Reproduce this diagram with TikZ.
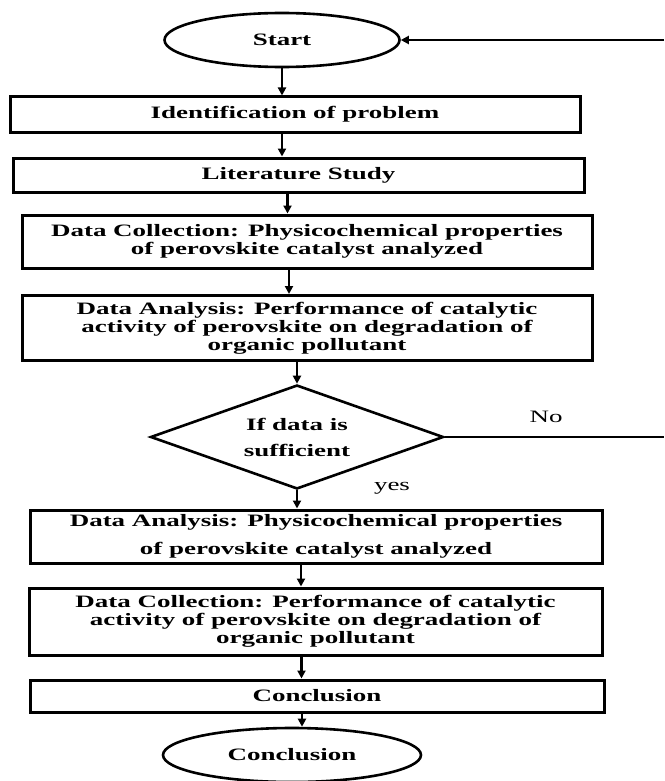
\documentclass[tikz,border=0pt]{standalone}
\usepackage{fontspec}
\setmainfont{Liberation Serif}[FakeStretch=1.55]
\usetikzlibrary{shapes.geometric,arrows.meta}

\tikzset{
  stepbox/.style={draw,line width=3pt,rectangle,inner sep=0pt,align=center,
    font=\bfseries\fontsize{17.4}{18}\selectfont},
  term/.style={draw,line width=2.6pt,ellipse,inner sep=0pt,
    font=\bfseries\fontsize{17.4}{18}\selectfont},
  decide/.style={draw,line width=2.6pt,diamond,aspect=2.8,inner sep=0pt,align=center,
    font=\bfseries\fontsize{17.4}{18}\selectfont},
  flow/.style={line width=2.8pt,-{Triangle[length=8pt,width=8pt]}},
  lbl/.style={inner sep=0pt,font=\fontsize{17.4}{18}\selectfont}
}

\begin{document}
\begin{tikzpicture}[x=1pt,y=1pt,yscale=-1,xscale=1]
\useasboundingbox (0,0) rectangle (664,781);

%Shape: Ellipse [id:start]
\node[term,minimum width=235pt,minimum height=54pt] (start) at (282,40) {Start};
%Shape: Rectangle [id:idp]
\node[stepbox,minimum width=570pt,minimum height=35pt] (idp) at (295,114.5) {Identification of problem};
%Shape: Rectangle [id:lit]
\node[stepbox,minimum width=571pt,minimum height=34pt] (lit) at (298.5,175) {Literature Study};
%Shape: Rectangle [id:dc]
\node[stepbox,minimum width=570pt,minimum height=53pt] (dc) at (307,241.5)
  {Data Collection: Physicochemical properties\\ of perovskite catalyst analyzed};
%Shape: Rectangle [id:da]
\node[stepbox,minimum width=570pt,minimum height=65pt] (da) at (307,328)
  {Data Analysis: Performance of catalytic\\ activity of perovskite on degradation of\\ organic pollutant};
%Shape: Diamond [id:dec]
\node[decide,minimum width=293pt,minimum height=104pt] (dec) at (297,437)
  {If data is\\[8pt] sufficient};
%Shape: Rectangle [id:ds]
\node[stepbox,minimum width=572pt,minimum height=53pt] (ds) at (316,536.5)
  {Data Analysis: Physicochemical properties\\[10pt] of perovskite catalyst analyzed};
%Shape: Rectangle [id:dp]
\node[stepbox,minimum width=573pt,minimum height=67pt] (dp) at (315.5,621.5)
  {Data Collection: Performance of catalytic\\ activity of perovskite on degradation of\\ organic pollutant};
%Shape: Rectangle [id:concl]
\node[stepbox,minimum width=574pt,minimum height=32pt] (concl) at (317,696) {Conclusion};
%Shape: Ellipse [id:fin]
\node[term,minimum width=258pt,minimum height=54pt] (fin) at (292,755) {Conclusion};

%Straight Lines
\draw[flow] (start.south) -- (start.south |- idp.north);
\draw[flow] (idp.south -| start) -- (start |- lit.north);
\draw[flow] ([xshift=-11pt]lit.south) -- ([xshift=-11pt]lit.south |- dc.north);
\draw[flow] ([xshift=-18pt]dc.south) -- ([xshift=-18pt]dc.south |- da.north);
\draw[flow] (da.south -| dec) -- (dec.north);
\draw[flow] (dec.south) -- (dec.south |- ds.north);
\draw[flow] ([xshift=-15pt]ds.south) -- ([xshift=-15pt]ds.south |- dp.north);
\draw[flow] ([xshift=-14pt]dp.south) -- ([xshift=-14pt]dp.south |- concl.north);
\draw[flow] ([xshift=-15pt]concl.south) -- ([xshift=-15pt]concl.south |- fin.north);

%Feedback line
\coordinate (noEnd) at (664,437);
\coordinate (backEnd) at (664,40);
\draw[line width=2.4pt] (dec.east) -- (noEnd);
\draw[flow,line width=2.4pt] (backEnd) -- (start.east);

% Text Node
\node[lbl] (no) at (546,417) {No};
% Text Node
\node[lbl] (yes) at (392,488) {yes};

\end{tikzpicture}
\end{document}
